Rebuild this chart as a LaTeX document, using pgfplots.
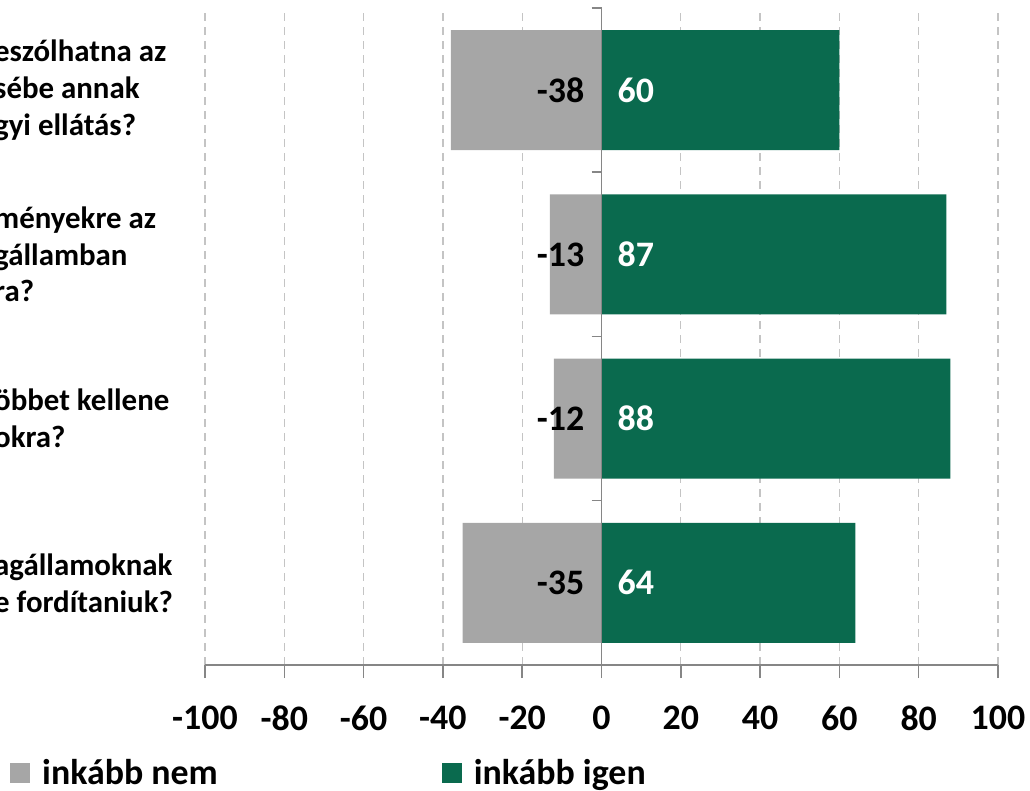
\documentclass[border=0pt]{standalone}
\usepackage{fontspec}
\setmainfont{Carlito}
\usepackage{pgfplots}
\usepackage{pgfplotstable}
\pgfplotsset{compat=1.18}

\definecolor{nemgray}{HTML}{A6A6A6}
\definecolor{igengreen}{HTML}{0A6A4E}
\definecolor{axisgray}{HTML}{868686}
\definecolor{gridgray}{HTML}{C4C4C4}

% y: 4 = top question, 1 = bottom question
\pgfplotstableread{
y nem igen
4 -38 60
3 -13 87
2 -12 88
1 -35 64
}\valtable

\begin{document}
\begin{tikzpicture}
\useasboundingbox (0,0) rectangle (1030bp,791bp);
\begin{axis}[
  at={(205bp,126bp)}, anchor=south west,
  scale only axis, width=793bp, height=657bp,
  xmin=-100, xmax=100, ymin=0.5, ymax=4.5,
  clip=false,
  xbar, bar width=120bp, bar shift=0pt,
  axis x line*=bottom, axis y line*=left,
  axis line style={-, axisgray, line width=1.5bp},
  y axis line style={draw=none},
  xtick={-100,-80,...,100},
  xticklabels={-100,-80,-60,-40,-20,0,20,40,60,80,100},
  tick align=outside,
  major tick length=13bp,
  xtick style={axisgray, line width=1.5bp},
  xticklabel style={font=\fontsize{36}{43}\selectfont\bfseries, inner sep=0pt, anchor=north, yshift=-28bp},
  ytick={1,2,3,4},
  ytick style={draw=none},
  yticklabels={{agállamoknak\\e fordítaniuk?},{öbbet kellene\\okra?},{ményekre az\\gállamban\\ra?},{eszólhatna az\\sébe annak\\gyi ellátás?}},
  yticklabel style={font=\fontsize{31}{37}\selectfont\bfseries, align=left, anchor=west, inner sep=0pt, xshift=-198bp},
  xmajorgrids,
  major grid style={gridgray, line width=1.3bp, dash pattern=on 8bp off 6bp},
  legend columns=2,
  legend cell align=left,
  legend style={at={(axis description cs:-0.2585,-0.140)}, anchor=north west, draw=none, fill=none, inner sep=0pt,
    font=\fontsize{36}{43}\selectfont\bfseries,
    /tikz/every even column/.append style={column sep=212bp}},
]
\addplot[fill=nemgray, draw=none,
  legend image code/.code={\path[draw=none, fill=none] (0bp,-10bp) rectangle (40bp,10bp);
    \fill[nemgray] (10bp,-10bp) rectangle (30bp,10bp);}]
  table[x=nem, y=y] {\valtable};
\addlegendentry{inkább nem}
\addplot[fill=igengreen, draw=none,
  legend image code/.code={\path[draw=none, fill=none] (0bp,-10bp) rectangle (40bp,10bp);
    \fill[igengreen] (10bp,-10bp) rectangle (30bp,10bp);}]
  table[x=igen, y=y] {\valtable};
\addlegendentry{inkább igen}

% value labels at the zero line
\addplot[forget plot, draw=none, fill=none, nodes near coords, point meta=explicit symbolic,
  every node near coord/.append style={anchor=east, xshift=-17bp, inner sep=0pt, black,
    font=\fontsize{36}{43}\selectfont\bfseries}]
  table[x expr=0, y=y, meta=nem] {\valtable};
\addplot[forget plot, draw=none, fill=none, nodes near coords, point meta=explicit symbolic,
  every node near coord/.append style={anchor=west, xshift=16bp, inner sep=0pt, white,
    font=\fontsize{36}{43}\selectfont\bfseries}]
  table[x expr=0, y=y, meta=igen] {\valtable};

% vertical axis line at zero with category separators
\draw[axisgray, line width=1.5bp] (axis cs:0,0.5) -- (axis cs:0,4.5);
\draw[axisgray, line width=1.5bp] ([xshift=-10bp]axis cs:0,4.5) -- (axis cs:0,4.5);
\draw[axisgray, line width=1.5bp] ([xshift=-10bp]axis cs:0,3.5) -- (axis cs:0,3.5);
\draw[axisgray, line width=1.5bp] ([xshift=-10bp]axis cs:0,2.5) -- (axis cs:0,2.5);
\draw[axisgray, line width=1.5bp] ([xshift=-10bp]axis cs:0,1.5) -- (axis cs:0,1.5);
\end{axis}
\end{tikzpicture}
\end{document}
